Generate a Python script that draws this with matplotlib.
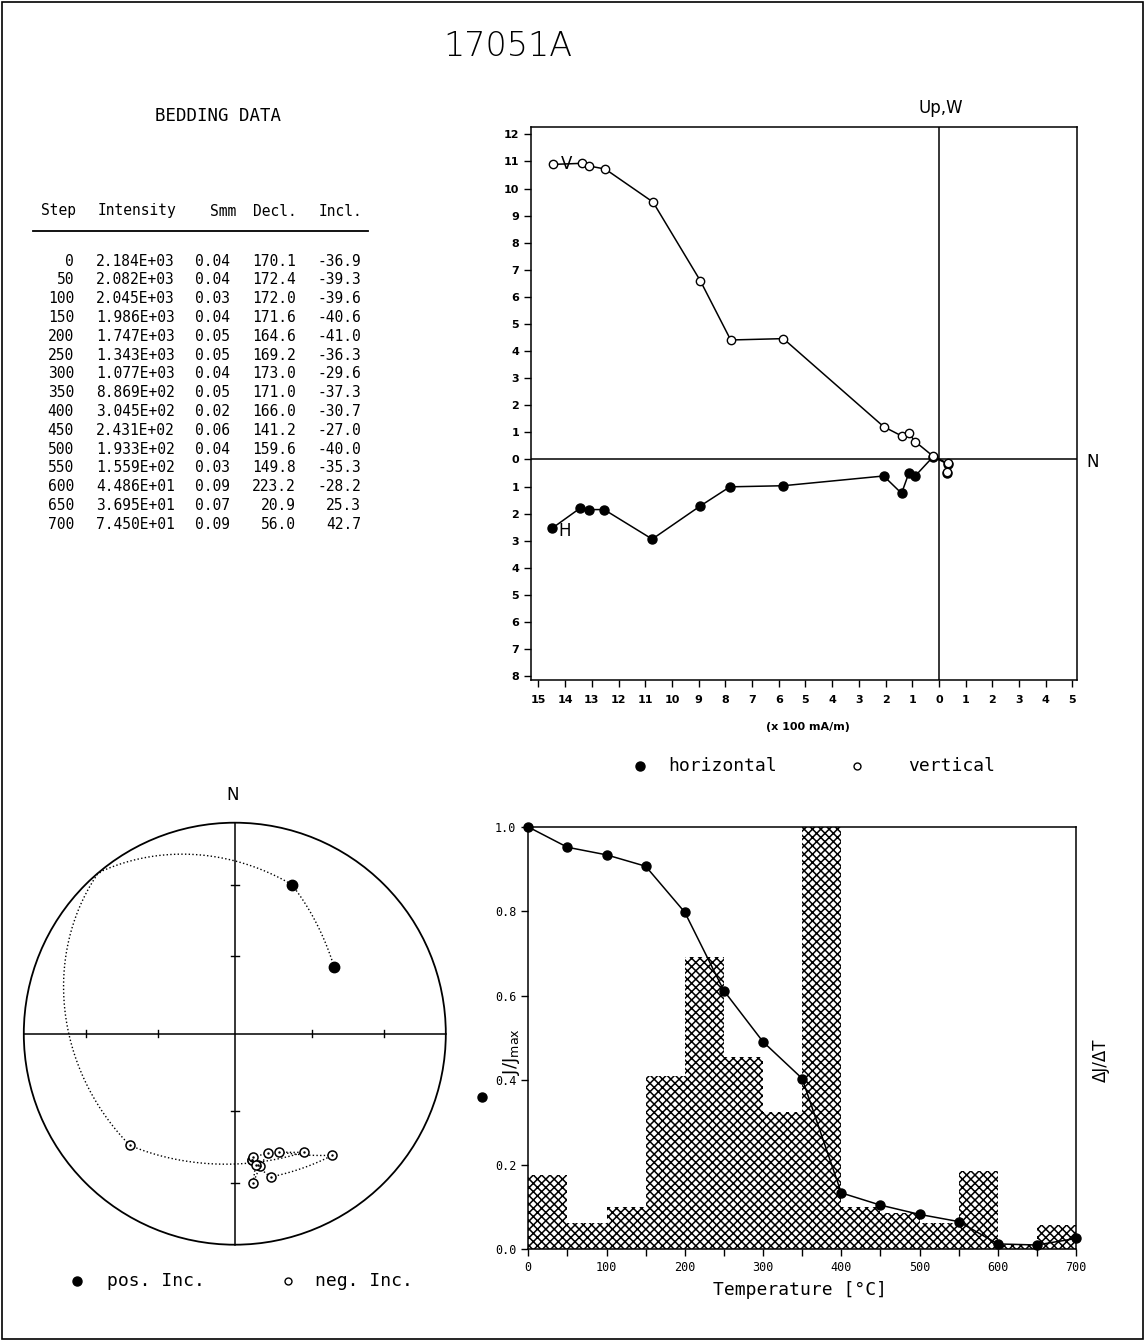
import numpy as np
import matplotlib
matplotlib.use("Agg")
import matplotlib.pyplot as plt
from matplotlib.patches import Rectangle, Circle
from matplotlib.lines import Line2D

plt.rcParams["hatch.linewidth"] = 1.1

W, H = 1144, 1340
MONO = "DejaVu Sans Mono"

# ----- data -----
steps = [0, 50, 100, 150, 200, 250, 300, 350, 400, 450, 500, 550, 600, 650, 700]
intensity = [2.184e3, 2.082e3, 2.045e3, 1.986e3, 1.747e3, 1.343e3, 1.077e3, 8.869e2,
             3.045e2, 2.431e2, 1.933e2, 1.559e2, 4.486e1, 3.695e1, 7.450e1]
smm = [0.04, 0.04, 0.03, 0.04, 0.05, 0.05, 0.04, 0.05, 0.02, 0.06, 0.04, 0.03, 0.09, 0.07, 0.09]
decl = [170.1, 172.4, 172.0, 171.6, 164.6, 169.2, 173.0, 171.0, 166.0, 141.2, 159.6, 149.8, 223.2, 20.9, 56.0]
incl = [-36.9, -39.3, -39.6, -40.6, -41.0, -36.3, -29.6, -37.3, -30.7, -27.0, -40.0, -35.3, -28.2, 25.3, 42.7]

# Zijderveld (x 100 mA/m): horizontal (N, W) and vertical (N, Up)
h_n = [-14.49, -13.43, -13.12, -12.54, -10.74, -8.96, -7.83, -5.84, -2.07, -1.40, -1.13, -0.89, -0.22, 0.35, 0.29]
h_w = [-2.54, -1.79, -1.85, -1.85, -2.94, -1.73, -1.01, -0.97, -0.61, -1.25, -0.51, -0.61, 0.10, -0.18, -0.51]
v_n = [-14.47, -13.38, -13.10, -12.50, -10.71, -8.94, -7.80, -5.83, -2.07, -1.40, -1.13, -0.89, -0.22, 0.33, 0.29]
v_up = [10.89, 10.93, 10.83, 10.72, 9.50, 6.60, 4.41, 4.46, 1.21, 0.87, 0.97, 0.66, 0.12, -0.14, -0.45]

# demagnetisation curve
j_norm = [1.0, 0.952, 0.934, 0.907, 0.798, 0.612, 0.491, 0.404, 0.133, 0.104, 0.082, 0.065, 0.012, 0.0095, 0.025]
bin_left = [0, 50, 100, 150, 200, 250, 300, 350, 400, 450, 500, 550, 600, 650]
dj_dt = [0.175, 0.061, 0.100, 0.411, 0.693, 0.456, 0.325, 1.05, 0.100, 0.085, 0.061, 0.186, 0.010, 0.057]


def fx(px):
    return px / W


def fy(py):
    return 1 - py / H


fig = plt.figure(figsize=(W / 100, H / 100), dpi=100)
fig.add_artist(Rectangle((1.5 / W, 1.5 / H), (W - 3) / W, (H - 3) / H,
                         transform=fig.transFigure, fill=False, lw=1.2, color="black"))

fig.text(fx(508), fy(46), "17051A", fontsize=24, fontweight="light", ha="center", va="center")

# ----- table -----
fig.text(fx(218), fy(116), "BEDDING DATA", family=MONO, fontsize=12.5, ha="center", va="center")
col_right = [76, 176, 236, 297, 362]
headers = ["Step", "Intensity", "Smm", "Decl.", "Incl."]
for xr, htxt in zip(col_right, headers):
    fig.text(fx(xr), fy(211), htxt, family=MONO, fontsize=10.5, ha="right", va="center")
fig.add_artist(Line2D([fx(33), fx(368)], [fy(231), fy(231)], transform=fig.transFigure,
                      color="black", lw=1.3))
for i in range(len(steps)):
    yy = fy(261 + i * 18.8)
    cells = [str(steps[i]), "%.3E" % intensity[i], "%.2f" % smm[i], "%.1f" % decl[i], "%.1f" % incl[i]]
    right = [74, 175, 230, 296, 361]
    for xr, c in zip(right, cells):
        fig.text(fx(xr), yy, c, family=MONO, fontsize=10.5, ha="right", va="center")

# ----- Zijderveld -----
ax1 = fig.add_axes([fx(531), fy(680), (1076.7 - 531) / W, (680 - 127.3) / H])
ax1.set_xlim(-15.28, 5.16)
ax1.set_ylim(-8.14, 12.26)
ax1.axhline(0, color="black", lw=1.1)
ax1.axvline(0, color="black", lw=1.1)
ax1.plot(h_n, h_w, "-o", color="black", ms=6.5, lw=1.1, zorder=3)
ax1.plot(v_n, v_up, "-o", color="black", mfc="white", mec="black", ms=6, mew=1, lw=1.1, zorder=3)
ax1.text(v_n[0] + 0.3, v_up[0], "V", fontsize=12, ha="left", va="center")
ax1.text(h_n[0] + 0.25, h_w[0] - 0.1, "H", fontsize=12, ha="left", va="center")
xt = list(range(-15, 6))
yt = list(range(-8, 13))
ax1.set_xticks(xt, [str(abs(t)) for t in xt], fontsize=8, fontweight="bold")
ax1.set_yticks(yt, [str(abs(t)) for t in yt], fontsize=8, fontweight="bold")
ax1.tick_params(direction="out", length=5, width=1)
ax1.tick_params(axis="x", pad=6)
for s in ax1.spines.values():
    s.set_linewidth(1.1)
fig.text(fx(941), fy(108), "Up,W", fontsize=12, ha="center", va="center")
fig.text(fx(1093), fy(462), "N", fontsize=12, ha="center", va="center")
fig.text(fx(808), fy(727), "(x 100 mA/m)", fontsize=8, fontweight="bold", ha="center", va="center")

fig.add_artist(Line2D([fx(640)], [fy(766)], marker="o", ms=6.5, color="black", transform=fig.transFigure))
fig.text(fx(668), fy(766), "horizontal", family=MONO, fontsize=13, ha="left", va="center")
fig.add_artist(Line2D([fx(857)], [fy(766)], marker="o", ms=5, mfc="white", mec="black",
                      transform=fig.transFigure))
fig.text(fx(908), fy(766), "vertical", family=MONO, fontsize=13, ha="left", va="center")

# ----- equal-area stereonet -----
ax2 = fig.add_axes([fx(234.8 - 211), fy(1033.7 + 211), 422 / W, 422 / H])
ax2.set_xlim(-1, 1)
ax2.set_ylim(-1, 1)
ax2.axis("off")
ax2.add_patch(Circle((0, 0), 1, fill=False, lw=1.3, color="black", clip_on=False))
ax2.plot([-1, 1], [0, 0], color="black", lw=1.1, clip_on=False)
ax2.plot([0, 0], [-1, 1], color="black", lw=1.1, clip_on=False)


def ea_radius(inc_abs):
    return np.sqrt(2) * np.sin(np.radians(90 - inc_abs) / 2)


for ang in (30, 60):
    r = ea_radius(ang)
    for sgn in (-1, 1):
        ax2.plot([sgn * r, sgn * r], [-0.018, 0.018], color="black", lw=1)
        ax2.plot([-0.018, 0.018], [sgn * r, sgn * r], color="black", lw=1)


def to_vec(d, i):
    d, i = np.radians(d), np.radians(i)
    return np.array([np.cos(i) * np.cos(d), np.cos(i) * np.sin(d), np.sin(i)])


def project(v):
    v = v / np.linalg.norm(v)
    inc = np.degrees(np.arcsin(np.clip(v[2], -1, 1)))
    dec = np.arctan2(v[1], v[0])
    r = ea_radius(abs(inc))
    return r * np.sin(dec), r * np.cos(dec)


for k in range(len(decl) - 1):
    a = to_vec(decl[k], incl[k])
    b = to_vec(decl[k + 1], incl[k + 1])
    om = np.arccos(np.clip(np.dot(a, b), -1, 1))
    ts = np.linspace(0, 1, 80)
    xs, ys = [], []
    for t in ts:
        if om < 1e-6:
            v = a
        else:
            v = (np.sin((1 - t) * om) * a + np.sin(t * om) * b) / np.sin(om)
        px, py = project(v)
        xs.append(px)
        ys.append(py)
    ax2.plot(xs, ys, ":", color="black", lw=1)

for d, i in zip(decl, incl):
    px, py = project(to_vec(d, i))
    if i >= 0:
        ax2.plot(px, py, "o", color="black", ms=7.5, zorder=4)
    else:
        ax2.plot(px, py, "o", mfc="white", mec="black", ms=6.5, mew=1.1, zorder=4)
        ax2.plot(px, py, ".", color="black", ms=1.5, zorder=5)

fig.text(fx(233), fy(795), "N", fontsize=12, ha="center", va="center")
fig.add_artist(Line2D([fx(77)], [fy(1281)], marker="o", ms=6.5, color="black", transform=fig.transFigure))
fig.text(fx(107), fy(1281), "pos. Inc.", family=MONO, fontsize=13, ha="left", va="center")
fig.add_artist(Line2D([fx(288)], [fy(1281)], marker="o", ms=5, mfc="white", mec="black",
                      transform=fig.transFigure))
fig.text(fx(315), fy(1281), "neg. Inc.", family=MONO, fontsize=13, ha="left", va="center")

# ----- demagnetisation -----
ax3 = fig.add_axes([fx(528.3), fy(1249), (1076 - 528.3) / W, (1249 - 827) / H])
ax3.set_xlim(0, 700)
ax3.set_ylim(0, 1.0)
ax3.bar(bin_left, dj_dt, width=50, align="edge", facecolor="white", edgecolor="black",
        hatch="xxxx", linewidth=0, zorder=1)
ax3.plot(steps, j_norm, "-o", color="black", ms=6.5, lw=1.1, zorder=3, clip_on=False)
xt3 = list(range(0, 701, 50))
ax3.set_xticks(xt3, [str(t) if t % 100 == 0 else "" for t in xt3], family=MONO, fontsize=8.5)
yt3 = [0.0, 0.2, 0.4, 0.6, 0.8, 1.0]
ax3.set_yticks(yt3, ["%.1f" % t for t in yt3], family=MONO, fontsize=8.5)
ax3.tick_params(direction="out", length=5, width=1)
for s in ax3.spines.values():
    s.set_linewidth(1.1)
fig.text(fx(512), fy(1052), r"J/J$_{\rm max}$", fontsize=13, rotation=90, ha="center", va="center")
fig.add_artist(Line2D([fx(482)], [fy(1097)], marker="o", ms=6.5, color="black", transform=fig.transFigure))
fig.text(fx(1101), fy(1060), "ΔJ/ΔT", fontsize=12, rotation=90, ha="center", va="center")
fig.text(fx(800), fy(1290), "Temperature [°C]", family=MONO, fontsize=13, ha="center", va="center")

fig.savefig("out.png", dpi=100)
